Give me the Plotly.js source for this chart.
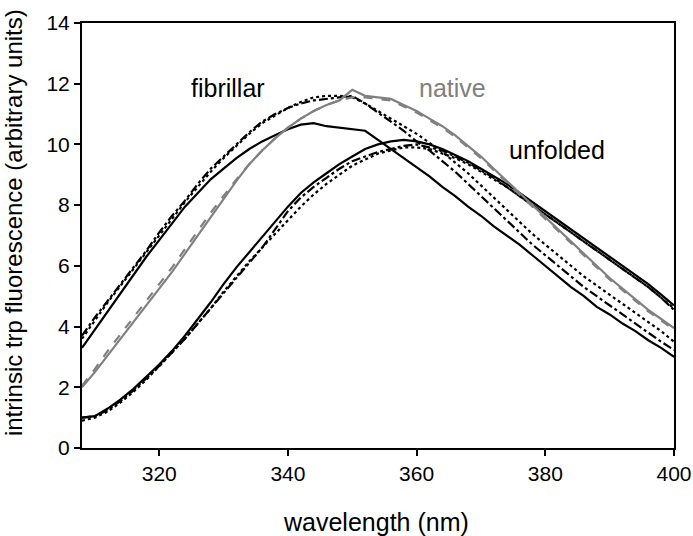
<!DOCTYPE html>
<html>
<head>
<meta charset="utf-8">
<script src="https://cdn.plot.ly/plotly-3.0.1.min.js"></script>
<style>html,body{margin:0;padding:0;background:#fff;}#chart{width:693px;height:536px;}</style>
</head>
<body>
<div id="chart"></div>
<script>
const wavelength = [308,310,312,314,316,318,320,322,324,326,328,330,332,334,336,338,340,342,344,346,348,350,352,354,356,358,360,362,364,366,368,370,372,374,376,378,380,382,384,386,388,390,392,394,396,398,400];

const fibrillarSolid = [3.3,3.9,4.5,5.1,5.7,6.3,6.85,7.4,7.95,8.4,8.85,9.2,9.55,9.85,10.1,10.3,10.5,10.65,10.7,10.6,10.55,10.5,10.45,10.15,9.85,9.55,9.25,8.95,8.6,8.3,7.95,7.65,7.3,7.0,6.7,6.35,6.0,5.65,5.3,5.0,4.65,4.4,4.1,3.85,3.55,3.3,3.0];
const fibrillarDashDot = [3.7,4.3,4.85,5.4,5.95,6.5,7.1,7.65,8.15,8.7,9.2,9.6,10.0,10.4,10.75,11.0,11.2,11.35,11.45,11.5,11.55,11.6,11.35,11.05,10.75,10.45,10.1,9.8,9.45,9.1,8.7,8.3,7.9,7.5,7.1,6.7,6.35,6.0,5.65,5.3,5.0,4.7,4.4,4.1,3.8,3.5,3.23];
const fibrillarDotted = [3.6,4.2,4.8,5.35,5.9,6.45,7.0,7.55,8.1,8.6,9.1,9.55,9.95,10.35,10.7,10.95,11.2,11.4,11.55,11.6,11.6,11.55,11.35,11.1,10.85,10.6,10.35,10.05,9.75,9.4,9.05,8.65,8.25,7.85,7.45,7.05,6.7,6.35,6.0,5.65,5.35,5.05,4.75,4.45,4.15,3.85,3.5];
const nativeSolid = [2.0,2.5,3.05,3.6,4.15,4.7,5.25,5.8,6.4,7.0,7.6,8.2,8.8,9.35,9.8,10.2,10.55,10.85,11.1,11.3,11.45,11.8,11.6,11.55,11.5,11.3,11.1,10.85,10.6,10.3,9.95,9.6,9.2,8.8,8.4,8.0,7.6,7.2,6.8,6.4,6.0,5.6,5.25,4.9,4.55,4.25,3.95];
const nativeDashed = [2.05,2.6,3.2,3.75,4.3,4.85,5.4,5.95,6.55,7.15,7.75,8.3,8.85,9.35,9.8,10.2,10.55,10.85,11.1,11.3,11.45,11.55,11.55,11.5,11.45,11.25,11.05,10.8,10.55,10.25,9.9,9.55,9.15,8.75,8.35,7.95,7.55,7.15,6.75,6.35,5.95,5.55,5.2,4.85,4.5,4.2,3.9];
const unfoldedSolid = [1.0,1.05,1.3,1.6,1.95,2.35,2.75,3.2,3.7,4.25,4.8,5.4,5.95,6.45,6.95,7.45,7.95,8.4,8.75,9.05,9.35,9.6,9.85,10.0,10.1,10.15,10.1,10.0,9.85,9.65,9.45,9.2,8.95,8.7,8.4,8.1,7.8,7.5,7.2,6.9,6.6,6.3,6.0,5.7,5.4,5.05,4.7];
const unfoldedDotted = [0.9,1.0,1.2,1.5,1.85,2.25,2.7,3.15,3.6,4.1,4.6,5.15,5.65,6.15,6.6,7.05,7.5,7.95,8.35,8.7,9.0,9.3,9.5,9.7,9.8,9.9,9.9,9.85,9.7,9.55,9.35,9.1,8.85,8.6,8.3,8.0,7.7,7.4,7.1,6.8,6.5,6.2,5.9,5.6,5.3,4.95,4.6];
const unfoldedDashDot = [1.0,1.05,1.25,1.55,1.9,2.3,2.7,3.15,3.6,4.1,4.6,5.1,5.6,6.1,6.6,7.2,7.8,8.25,8.6,8.9,9.2,9.45,9.6,9.75,9.85,9.95,10.0,9.9,9.8,9.6,9.4,9.15,8.9,8.6,8.3,8.0,7.7,7.4,7.1,6.8,6.5,6.2,5.9,5.6,5.3,4.95,4.55];

const xTicks = [320,340,360,380,400];
const yTicks = [0,2,4,6,8,10,12,14];
const groupLabels = ['fibrillar','native','unfolded'];
const labelX = [330.7,365.5,381.8];
const labelY = [11.86,11.86,9.82];
const labelColors = ['#000000','#808080','#000000'];

const BLACK = '#000000', GRAY = '#808080';
function tr(y, color, dash, width) {
  return {x: wavelength, y: y, type: 'scatter', mode: 'lines',
    line: {color: color, dash: dash, width: width || 2.2}, hoverinfo: 'skip', showlegend: false};
}
const data = [
  tr(unfoldedDotted, BLACK, 'dot'),
  tr(unfoldedDashDot, BLACK, 'dashdot'),
  tr(unfoldedSolid, BLACK, 'solid'),
  tr(fibrillarDotted, BLACK, 'dot'),
  tr(fibrillarDashDot, BLACK, 'dashdot'),
  tr(fibrillarSolid, BLACK, 'solid'),
  tr(nativeDashed, GRAY, 'dash'),
  tr(nativeSolid, GRAY, 'solid')
];

const FONT = 'Arial, "Liberation Sans", sans-serif';
const annotations = groupLabels.map((t, i) => ({
  x: labelX[i], y: labelY[i], xref: 'x', yref: 'y', text: t, showarrow: false,
  xanchor: 'center', yanchor: 'middle', font: {family: FONT, size: 25, color: labelColors[i]}
}));
annotations.push({
  xref: 'paper', yref: 'paper', x: -0.116, y: 0.53, textangle: -90,
  text: 'intrinsic trp fluorescence (arbitrary units)', showarrow: false,
  xanchor: 'center', yanchor: 'middle', font: {family: FONT, size: 24, color: '#000'}
});
annotations.push({
  xref: 'paper', yref: 'paper', x: 0.497, y: -0.174,
  text: 'wavelength (nm)', showarrow: false,
  xanchor: 'center', yanchor: 'middle', font: {family: FONT, size: 25, color: '#000'}
});

const layout = {
  width: 693, height: 536,
  margin: {l: 82, r: 19, t: 23, b: 88, pad: 0},
  paper_bgcolor: '#fff', plot_bgcolor: '#fff',
  showlegend: false,
  font: {family: FONT, color: '#000'},
  xaxis: {range: [308, 400], tickvals: xTicks, ticktext: xTicks.map(String),
    ticks: 'outside', ticklen: 6, tickwidth: 2, tickcolor: '#000',
    showline: true, linecolor: '#000', linewidth: 2, mirror: true,
    showgrid: false, zeroline: false, tickfont: {family: FONT, size: 21, color: '#000'}},
  yaxis: {range: [0, 14], tickvals: yTicks, ticktext: yTicks.map(String),
    ticks: 'outside', ticklen: 6, tickwidth: 2, tickcolor: '#000',
    showline: true, linecolor: '#000', linewidth: 2, mirror: true,
    showgrid: false, zeroline: false, tickfont: {family: FONT, size: 21, color: '#000'}},
  annotations: annotations
};

Plotly.newPlot('chart', data, layout, {staticPlot: true, displayModeBar: false});
</script>
</body>
</html>
